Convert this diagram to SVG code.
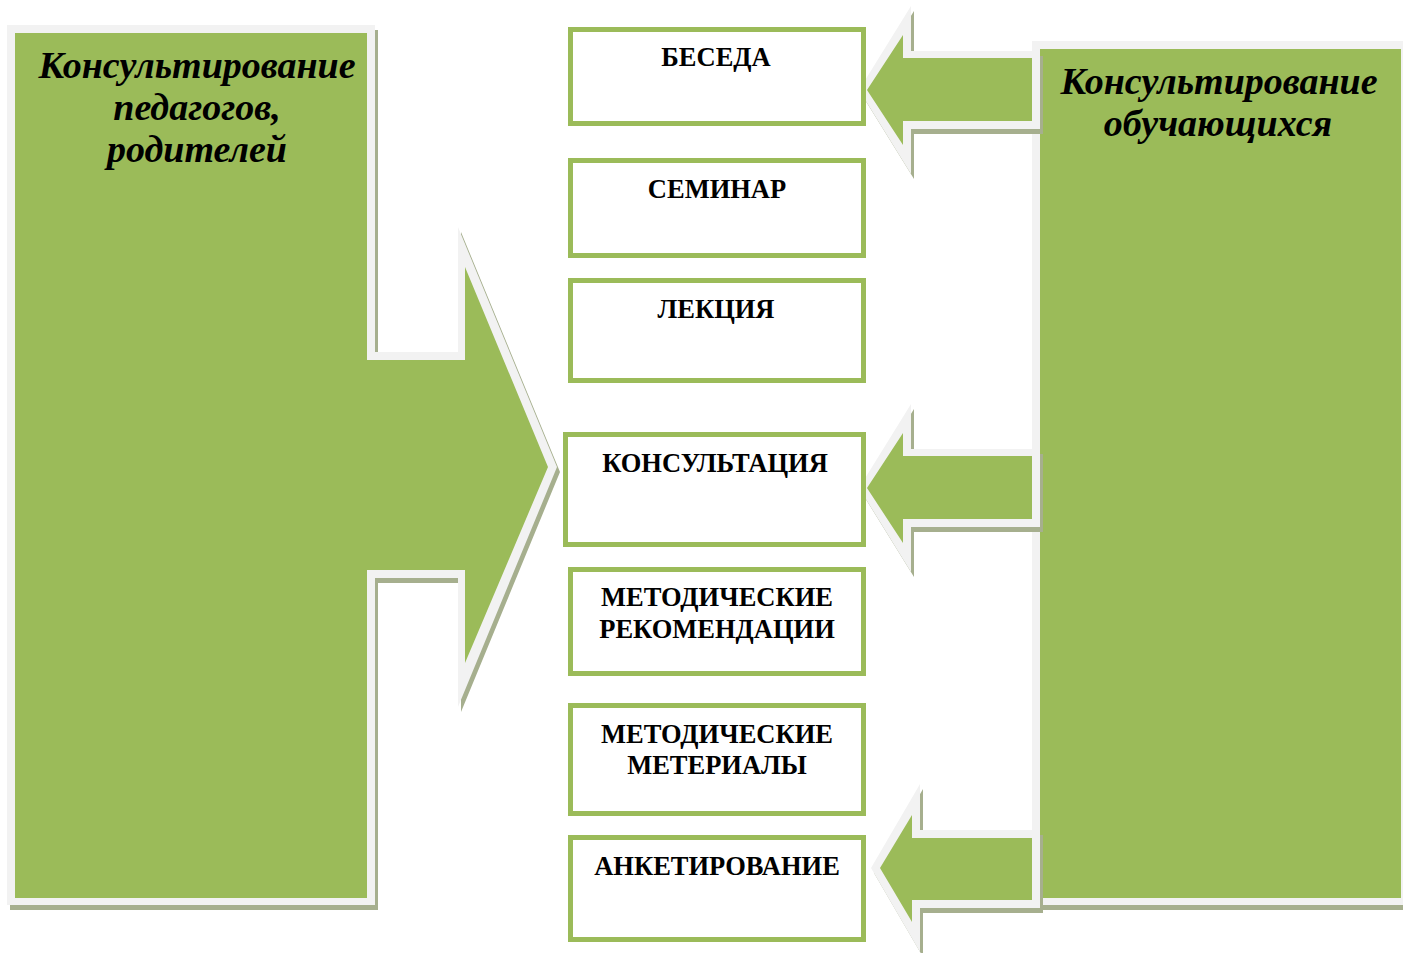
<svg xmlns="http://www.w3.org/2000/svg" width="1403" height="953" viewBox="0 0 1403 953">
<style>
.sh{fill:#a6af8e}
.lt{fill:#f2f2f2}
.gr{fill:#9bbb59}
.box{fill:#ffffff;stroke:#9bbb59;stroke-width:5}
.bt{font-family:"Liberation Serif","Times New Roman",serif;font-weight:bold;font-size:26.5px;fill:#000;text-anchor:middle}
.tt{font-family:"Liberation Serif","Times New Roman",serif;font-weight:bold;font-style:italic;font-size:38px;fill:#000;text-anchor:middle}
</style>
<rect width="1403" height="953" fill="#ffffff"/>
<g id="left-node">
<polygon class="sh" transform="translate(3,5)" points="7,25 375,25 375,352 458,352 458,227 557,467 458,707 458,578 375,578 375,905 7,905"/>
<polygon class="lt" points="7,25 375,25 375,352 458,352 458,227 557,467 458,707 458,578 375,578 375,905 7,905"/>
<polygon class="gr" points="15,33 367,33 367,360 465,360 465,267 548,467 465,663 465,570 367,570 367,898 15,898"/>
<text class="tt" x="197" y="78">Консультирование</text>
<text class="tt" x="197" y="120">педагогов,</text>
<text class="tt" x="197" y="162">родителей</text>
</g>
<g id="right-node">
<rect class="sh" x="1035" y="46" width="380" height="864"/>
<rect class="lt" x="1032" y="41" width="380" height="864"/>
<rect class="gr" x="1040" y="49" width="361" height="849"/>
<text class="tt" x="1219" y="94">Консультирование</text>
<text class="tt" x="1218" y="136">обучающихся</text>
</g>
<g id="connectors">
<g id="arrow-1">
<polygon class="sh" transform="translate(3,5)" points="859,90 911,6 911,51 1040,51 1040,129 911,129 911,174"/>
<polygon class="lt" points="859,90 911,6 911,51 1040,51 1040,129 911,129 911,174"/>
<polygon class="gr" points="867,90 903,35 903,58 1032,58 1032,121 903,121 903,145"/>
</g>
<g id="arrow-2">
<polygon class="sh" transform="translate(3,5)" points="859,488 911,404 911,449 1040,449 1040,527 911,527 911,572"/>
<polygon class="lt" points="859,488 911,404 911,449 1040,449 1040,527 911,527 911,572"/>
<polygon class="gr" points="867,488 903,433 903,456 1032,456 1032,519 903,519 903,543"/>
</g>
<g id="arrow-3">
<polygon class="sh" transform="translate(3,5)" points="871,868 920,784 920,830 1040,830 1040,908 920,908 920,952"/>
<polygon class="lt" points="871,868 920,784 920,830 1040,830 1040,908 920,908 920,952"/>
<polygon class="gr" points="880,868 912,815 912,838 1032,838 1032,900 912,900 912,922"/>
</g>
</g>
<g id="box-beseda">
<rect class="box" x="570.5" y="29.5" width="293" height="94"/>
<text class="bt" x="716" y="66">БЕСЕДА</text>
</g>
<g id="box-seminar">
<rect class="box" x="570.5" y="160.5" width="293" height="95"/>
<text class="bt" x="717" y="198">СЕМИНАР</text>
</g>
<g id="box-lekciya">
<rect class="box" x="570.5" y="280.5" width="293" height="100"/>
<text class="bt" x="716" y="318">ЛЕКЦИЯ</text>
</g>
<g id="box-konsultaciya">
<rect class="box" x="565.5" y="434.5" width="298" height="110"/>
<text class="bt" x="715" y="472">КОНСУЛЬТАЦИЯ</text>
</g>
<g id="box-metod-rek">
<rect class="box" x="570.5" y="569.5" width="293" height="104"/>
<text class="bt" x="717" y="606">МЕТОДИЧЕСКИЕ</text>
<text class="bt" x="717" y="638">РЕКОМЕНДАЦИИ</text>
</g>
<g id="box-metod-mat">
<rect class="box" x="570.5" y="705.5" width="293" height="108"/>
<text class="bt" x="717" y="743">МЕТОДИЧЕСКИЕ</text>
<text class="bt" x="717" y="774">МЕТЕРИАЛЫ</text>
</g>
<g id="box-anketirovanie">
<rect class="box" x="570.5" y="837.5" width="293" height="102"/>
<text class="bt" x="717" y="875">АНКЕТИРОВАНИЕ</text>
</g>
</svg>
